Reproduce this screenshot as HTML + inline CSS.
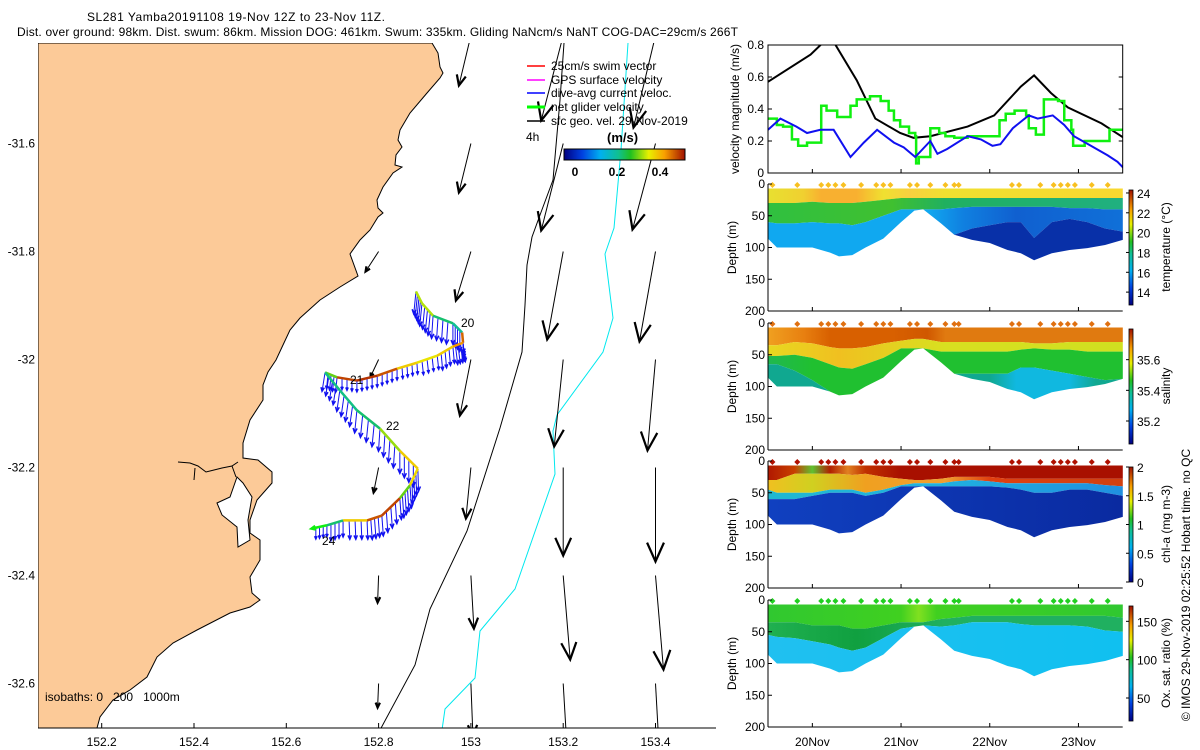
<!DOCTYPE html>
<html><head><meta charset="utf-8"><style>
html,body{margin:0;padding:0;background:#fff;}
svg{display:block;font-family:"Liberation Sans",sans-serif;}
text{font-size:12px;fill:#000;}
</style></head><body>
<svg id="fig" width="1200" height="750" viewBox="0 0 1200 750" xmlns="http://www.w3.org/2000/svg">
<defs>
<clipPath id="mapClip"><rect x="38" y="43" width="678" height="685"/></clipPath>
<clipPath id="velClip"><rect x="768" y="45" width="355" height="128"/></clipPath>
<linearGradient id="jet" x1="0" x2="1" y1="0" y2="0">
<stop offset="0" stop-color="#000080"/><stop offset="0.15" stop-color="#0040e0"/><stop offset="0.3" stop-color="#00b0f0"/><stop offset="0.45" stop-color="#10c090"/><stop offset="0.55" stop-color="#20c020"/><stop offset="0.7" stop-color="#e8f000"/><stop offset="0.83" stop-color="#f8a000"/><stop offset="1" stop-color="#a01000"/>
</linearGradient>
<linearGradient id="jetv" x1="0" x2="0" y1="1" y2="0">
<stop offset="0" stop-color="#000080"/><stop offset="0.15" stop-color="#0040e0"/><stop offset="0.3" stop-color="#00b0f0"/><stop offset="0.45" stop-color="#10c090"/><stop offset="0.55" stop-color="#20c020"/><stop offset="0.7" stop-color="#e8f000"/><stop offset="0.83" stop-color="#f8a000"/><stop offset="1" stop-color="#a01000"/>
</linearGradient>
</defs>

<text x="87" y="21" textLength="298">SL281 Yamba20191108 19-Nov 12Z to 23-Nov 11Z.</text>
<text x="17" y="36" textLength="721">Dist. over ground: 98km. Dist. swum: 86km. Mission DOG: 461km. Swum: 335km. Gliding NaNcm/s NaNT COG-DAC=29cm/s 266T</text>

<g id="map">
 <g clip-path="url(#mapClip)">
  <path fill="#fcca98" stroke="#000" stroke-width="1" d="M38,43 L432,43 L438,53 L440,67 L443,73 L440,78 L427,93 L410,113 L400,130 L398,140 L402,147 L396,155 L395,165 L402,167 L393,173 L383,187 L377,200 L378,208 L383,213 L378,217 L370,230 L360,240 L350,254 L358,276 L340,287 L320,300 L300,318 L290,330 L283,345 L276,360 L268,372 L263,385 L263,400 L250,420 L243,443 L243,458 L258,460 L272,472 L272,483 L257,500 L250,520 L250,533 L260,540 L260,560 L250,577 L252,593 L260,600 L250,607 L230,613 L197,630 L173,643 L157,657 L147,677 L130,690 L113,700 L100,717 L97,728 L38,728 Z"/>
  <path fill="#fff" stroke="#000" stroke-width="1" d="M217,503 L230,497 L237,477 L243,483 L252,497 L248,520 L250,540 L238,547 L237,527 L222,515 Z"/>
  <path fill="none" stroke="#000" stroke-width="1" d="M178,462 L190,463 L198,466 L206,472 L214,470 L222,468 L232,466 L238,462 M195,468 L194,480 M232,466 L236,477"/>
  <path fill="none" stroke="#000" stroke-width="1" d="M564,43 L560,100 L553,180 L540,215 L532,237 L527,265 L525,305 L522,352 L500,428 L467,531 L430,609 L415,665 L380,730"/>
  <path fill="none" stroke="#00e8ee" stroke-width="1" d="M628,43 L621,150 L614,228 L605,254 L613,318 L603,352 L557,415 L553,431 L555,474 L515,589 L480,631 L475,678 L445,709 L442,730"/>
  <g id="geo"></g>
  <g id="dac"></g>
  <g id="track"></g>
 </g>
 <line x1="38" y1="728" x2="716" y2="728" stroke="#000"/>
 <g id="mapTicks"></g>
 <text x="461" y="327">20</text>
 <text x="350" y="384">21</text>
 <text x="386" y="430">22</text>
 <text x="322" y="545">24</text>
 <text x="45" y="701" style="white-space:pre" xml:space="preserve">isobaths: 0   200   1000m</text>
 <g>
  <line x1="527" y1="66" x2="545" y2="66" stroke="#f00" stroke-width="1.5"/><text x="551" y="70">25cm/s swim vector</text>
  <line x1="527" y1="80" x2="545" y2="80" stroke="#f0f" stroke-width="1.5"/><text x="551" y="84">GPS surface velocity</text>
  <line x1="527" y1="93" x2="545" y2="93" stroke="#00f" stroke-width="1.5"/><text x="551" y="97">dive-avg current veloc.</text>
  <line x1="527" y1="107" x2="545" y2="107" stroke="#0f0" stroke-width="3"/><text x="551" y="111">net glider velocity</text>
  <line x1="527" y1="121" x2="545" y2="121" stroke="#000" stroke-width="1.5"/><text x="551" y="125">sfc geo. vel. 29-Nov-2019</text>
  <text x="526" y="141">4h</text>
  <text x="607" y="142" font-weight="bold" style="font-size:13px">(m/s)</text>
  <rect x="564" y="149" width="121" height="11" fill="url(#jet)" stroke="#000" stroke-width="1"/>
  <text x="575" y="176" text-anchor="middle" font-weight="bold">0</text>
  <text x="617" y="176" text-anchor="middle" font-weight="bold">0.2</text>
  <text x="660" y="176" text-anchor="middle" font-weight="bold">0.4</text>
 </g>
</g>

<g id="vel">
 <g clip-path="url(#velClip)" id="velLines"></g>
 <rect x="768" y="45" width="354.7" height="128" fill="none" stroke="#000"/>
 <g id="velTicks"></g>
 <text transform="translate(739,109) rotate(-90)" text-anchor="middle">velocity magnitude (m/s)</text>
</g>
<g id="sections"></g>
<text transform="translate(1190,585) rotate(-90)" text-anchor="middle">© IMOS 29-Nov-2019 02:25:52 Hobart time. no QC</text>
</svg>

<script>
// ---------- velocity time series ----------
const velBlackT=[19.5,19.98,20.13,20.24,20.5,20.71,20.99,21.14,21.33,21.75,22.05,22.35,22.5,22.69,22.88,23.26,23.51];
const velBlack=[0.57,0.74,0.82,0.82,0.58,0.34,0.25,0.22,0.23,0.29,0.36,0.54,0.61,0.5,0.41,0.31,0.22];
const velBlueT=[19.5,19.64,19.82,19.94,20.09,20.24,20.43,20.58,20.73,20.92,21.03,21.16,21.33,21.41,21.52,21.75,21.9,22.03,22.12,22.26,22.44,22.54,22.71,22.84,22.95,23.14,23.33,23.44,23.51];
const velBlue=[0.27,0.34,0.29,0.25,0.27,0.27,0.1,0.19,0.27,0.19,0.16,0.1,0.2,0.12,0.15,0.23,0.21,0.17,0.18,0.28,0.36,0.34,0.36,0.3,0.23,0.17,0.11,0.07,0.03];
const velGreenT=[19.5,19.6,19.67,19.77,19.84,19.94,20.1,20.16,20.28,20.43,20.5,20.65,20.77,20.86,20.92,20.99,21.09,21.16,21.17,21.2,21.33,21.43,21.5,21.6,21.75,22.11,22.18,22.28,22.41,22.44,22.52,22.61,22.77,22.84,22.92,22.94,23.07,23.35,23.51];
const velGreen=[0.34,0.3,0.29,0.21,0.17,0.19,0.42,0.39,0.35,0.42,0.46,0.48,0.45,0.39,0.33,0.29,0.25,0.23,0.06,0.1,0.28,0.25,0.23,0.22,0.23,0.33,0.37,0.39,0.36,0.28,0.24,0.46,0.45,0.33,0.27,0.17,0.2,0.27,0.27];
const velTicks=[0,0.2,0.4,0.6,0.8];
const velTickLabels=["0","0.2","0.4","0.6","0.8"];
// ---------- section data ----------
const days=[19.5,19.6,19.8,20.0,20.2,20.3,20.45,20.6,20.8,21.0,21.15,21.25,21.45,21.6,21.8,22.0,22.2,22.35,22.5,22.7,22.9,23.1,23.3,23.5];
const bottomDepth=[86,100,100,100,108,114,112,100,86,60,42,40,62,80,88,93,104,109,120,109,104,101,96,88];
const tempB1=[30,30,30,28,30,30,30,28,25,22,22,22,22,22,22,22,22,22,22,22,22,22,22,22];
const tempB2=[60,62,62,60,62,62,65,60,50,40,40,40,40,38,36,36,36,36,36,36,38,38,40,40];
const tempB3=[200,200,200,200,200,200,200,200,200,200,200,200,200,90,70,65,60,60,85,60,55,60,70,75];
const salB1=[35,35,30,32,38,40,40,38,32,28,25,25,30,30,30,30,30,30,32,32,30,30,30,30];
const salB2=[52,52,50,55,65,70,72,65,55,40,40,40,45,45,45,45,45,42,40,42,42,45,45,45];
const salB3=[65,65,75,90,200,200,200,200,200,200,200,200,200,90,80,80,80,70,70,75,80,85,90,90];
const chlB1=[30,30,20,20,20,20,22,20,25,28,30,30,28,25,25,25,28,28,28,28,28,28,28,28];
const chlB2=[45,50,50,50,45,45,45,50,45,38,35,35,35,32,30,32,35,35,35,35,35,35,38,40];
const chlB3=[60,60,60,55,50,50,50,55,50,40,40,40,40,40,40,40,42,45,50,50,45,45,50,55];
const oxB1=[35,35,35,40,40,40,45,45,40,35,35,35,30,28,25,25,25,25,25,25,25,25,25,28];
const oxB2=[55,58,60,65,70,75,80,75,60,45,42,42,42,40,35,35,35,38,40,40,40,42,48,50];
const surfTimes=[19.55,19.83,20.1,20.18,20.26,20.35,20.55,20.72,20.8,20.88,21.1,21.18,21.33,21.5,21.6,21.65,22.25,22.33,22.57,22.72,22.8,22.88,22.96,23.15,23.33];
const depthTicks=[0,50,100,150,200];
const dayTicks=[20,21,22,23];
const dayTickLabels=["20Nov","21Nov","22Nov","23Nov"];
// ---------- map data ----------
const trackLon=[152.881,152.894,152.918,152.961,152.981,152.983,152.961,152.927,152.883,152.840,152.797,152.753,152.710,152.684,152.716,152.753,152.803,152.846,152.885,152.868,152.846,152.807,152.775,152.723,152.688,152.656];
const trackLat=[-31.874,-31.896,-31.919,-31.933,-31.950,-31.969,-31.976,-31.993,-32.006,-32.017,-32.030,-32.039,-32.033,-32.024,-32.057,-32.094,-32.128,-32.169,-32.202,-32.233,-32.257,-32.289,-32.298,-32.298,-32.307,-32.313];
const trackSpeed=[0.33,0.33,0.24,0.22,0.45,0.42,0.38,0.36,0.38,0.46,0.48,0.47,0.3,0.23,0.23,0.24,0.32,0.38,0.37,0.3,0.47,0.46,0.38,0.24,0.23,0.27];
const dacU=[-0.03,-0.03,-0.02,0,0.02,0.03,0.02,0.02,0.01,0,0,0,-0.02,-0.04,-0.04,-0.03,-0.02,0,0.01,0.02,0.02,0.02,0.01,0,0,0];
const dacV=[-0.3,-0.3,-0.3,-0.28,-0.27,-0.25,-0.22,-0.18,-0.15,-0.15,-0.15,-0.15,-0.2,-0.25,-0.28,-0.3,-0.3,-0.3,-0.3,-0.3,-0.28,-0.27,-0.25,-0.22,-0.15,-0.1];
const geoLon=[152.8,152.8,152.8,152.8,152.8, 153,153,153,153,153,153,153, 153.2,153.2,153.2,153.2,153.2,153.2,153.2, 153.4,153.4,153.4,153.4,153.4,153.4,153.4];
const geoLat=[-31.8,-32,-32.2,-32.4,-32.6, -31.4,-31.6,-31.8,-32,-32.2,-32.4,-32.6, -31.4,-31.6,-31.8,-32,-32.2,-32.4,-32.6, -31.4,-31.6,-31.8,-32,-32.2,-32.4,-32.6];
const geoU=[-0.065,-0.04,-0.025,-0.005,-0.005, -0.06,-0.06,-0.075,-0.055,-0.025,0.015,0.01, -0.11,-0.11,-0.08,-0.045,0,0.035,0.025, -0.11,-0.115,-0.08,-0.04,0,0.04,0.025];
const geoV=[-0.1,-0.085,-0.125,-0.135,-0.12, -0.25,-0.245,-0.245,-0.28,-0.255,-0.265,-0.26, -0.425,-0.435,-0.44,-0.435,-0.44,-0.42,-0.425, -0.46,-0.43,-0.45,-0.455,-0.47,-0.47,-0.45];
const lonTicks=[152.2,152.4,152.6,152.8,153,153.2,153.4];
const lonTickLabels=["152.2","152.4","152.6","152.8","153","153.2","153.4"];
const latTicks=[-31.6,-31.8,-32,-32.2,-32.4,-32.6];
const latTickLabels=["-31.6","-31.8","-32","-32.2","-32.4","-32.6"];

const NS="http://www.w3.org/2000/svg";
function el(tag,attrs,parent){const e=document.createElementNS(NS,tag);for(const k in attrs)e.setAttribute(k,attrs[k]);if(parent)parent.appendChild(e);return e;}
const svg=document.getElementById('fig');
const defs=svg.querySelector('defs');

const dX=d=>768+(d-19.5)*88.7;
const vY=v=>173-v*160;
const mX=lon=>101.7+(lon-152.2)*461.5;
const mY=lat=>359.5-(lat+32)*540;

function jet(t){
  const st=[[0,[0,0,128]],[0.15,[0,64,224]],[0.3,[0,176,240]],[0.45,[16,192,144]],[0.55,[32,192,32]],[0.7,[232,240,0]],[0.83,[248,160,0]],[1,[160,16,0]]];
  t=Math.max(0,Math.min(1,t));
  for(let i=1;i<st.length;i++){if(t<=st[i][0]){const a=st[i-1],b=st[i];const f=(t-a[0])/(b[0]-a[0]);const c=a[1].map((v,j)=>Math.round(v+(b[1][j]-v)*f));return `rgb(${c})`;}}
  return 'rgb(160,16,0)';
}

// ---------- velocity panel ----------
const vl=document.getElementById('velLines');
const blackPts=velBlackT.map((t,i)=>`${dX(t)},${vY(velBlack[i])}`).join(' ');
const bl=el('polyline',{points:blackPts,fill:'none',stroke:'#000','stroke-width':2},vl);


let gp=[];velGreenT.forEach((t,i)=>{if(i>0)gp.push(`${dX(t)},${vY(velGreen[i-1])}`);gp.push(`${dX(t)},${vY(velGreen[i])}`);});
const gl=el('polyline',{points:gp.join(' '),fill:'none',stroke:'#10f010','stroke-width':2.5},vl);


const bluePts=velBlueT.map((t,i)=>`${dX(t)},${vY(velBlue[i])}`).join(' ');
const bu=el('polyline',{points:bluePts,fill:'none',stroke:'#1010f0','stroke-width':2},vl);


const vt=document.getElementById('velTicks');
velTicks.forEach((v,i)=>{
  el('line',{x1:768,x2:772,y1:vY(v),y2:vY(v),stroke:'#000'},vt);
  el('line',{x1:1118.7,x2:1122.7,y1:vY(v),y2:vY(v),stroke:'#000'},vt);
  const t=el('text',{x:764,y:vY(v)+4,'text-anchor':'end'},vt);t.textContent=velTickLabels[i];
  
  
});
dayTicks.forEach(d=>{el('line',{x1:dX(d),x2:dX(d),y1:173,y2:169,stroke:'#000'},vt);});

// ---------- sections ----------
let gid=0;
function grad(stops){
  const id='g'+(gid++);
  const g=el('linearGradient',{id:id,gradientUnits:'userSpaceOnUse',x1:768,x2:1122.7,y1:0,y2:0},defs);
  stops.forEach(s=>el('stop',{offset:(s[0]-19.5)/4,'stop-color':s[1]},g));
  return `url(#${id})`;
}
const panels=[
 {name:'temperature',top:184,bounds:[tempB1,tempB2,tempB3],
  fills:[[[19.5,'#e8e030'],[19.9,'#f0d030'],[20.1,'#f8b030'],[20.5,'#f8b030'],[20.8,'#f0e030'],[21.1,'#f8d040'],[21.5,'#f0e030'],[23.5,'#f8d830']],
         [[19.5,'#30c040'],[20.9,'#40c030'],[21.5,'#20b060'],[23.5,'#20b080']],
         [[19.5,'#10a8f0'],[21.3,'#10a8f0'],[21.7,'#1080e0'],[22.3,'#1060d0'],[23.5,'#1070d8']],
         [[19.5,'#0830a8'],[23.5,'#0830a8']]],
  dia:'#f8c020',cbLabels:[[24,'24'],[22,'22'],[20,'20'],[18,'18'],[16,'16'],[14,'14']],cbMin:12.7,cbMax:24.3,title:'temperature (°C)'},
 {name:'salinity',top:323,bounds:[salB1,salB2,salB3],
  fills:[[[19.5,'#f0a020'],[19.9,'#e88010'],[20.2,'#d86000'],[20.9,'#d86000'],[21.3,'#d05800'],[21.5,'#e07a10'],[23.5,'#e07a10']],
         [[19.5,'#e8d820'],[20.3,'#f0c020'],[21.5,'#d8e020'],[23.5,'#d0e020']],
         [[19.5,'#20b850'],[20,'#20c030'],[23.5,'#20c030']],
         [[19.5,'#10a890'],[22,'#10a890'],[22.3,'#10b8e0'],[22.9,'#10b8e0'],[23.2,'#10a890'],[23.5,'#10a890']]],
  dia:'#e07010',cbLabels:[[35.6,'35.6'],[35.4,'35.4'],[35.2,'35.2']],cbMin:35.05,cbMax:35.8,title:'salinity'},
 {name:'chl-a',top:461,bounds:[chlB1,chlB2,chlB3],
  fills:[[[19.5,'#b01800'],[19.8,'#c84000'],[20.0,'#60c030'],[20.2,'#b02000'],[20.4,'#e08020'],[20.6,'#c03000'],[21.0,'#a81000'],[23.5,'#a81000']],
         [[19.5,'#f0c020'],[20.0,'#d0d020'],[20.6,'#f0a020'],[21.5,'#f0a030'],[22,'#e04010'],[23.5,'#d04010']],
         [[19.5,'#20b8d0'],[21.5,'#20b0e0'],[23.5,'#2090e0']],
         [[19.5,'#1040c0'],[23.5,'#0a2aa0']]],
  dia:'#b01000',cbLabels:[[2,'2'],[1.5,'1.5'],[1,'1'],[0.5,'0.5'],[0,'0']],cbMin:0,cbMax:2,title:'chl-a (mg m-3)'},
 {name:'oxygen',top:600,bounds:[oxB1,oxB2],
  fills:[[[19.5,'#30c830'],[21,'#40d020'],[21.2,'#80e020'],[21.4,'#40d020'],[23.5,'#30c830']],
         [[19.5,'#20b050'],[20.5,'#10a040'],[21.5,'#20b060'],[23.5,'#20b060']],
         [[19.5,'#20c0f0'],[23.5,'#10c0f0']]],
  dia:'#20d020',cbLabels:[[150,'150'],[100,'100'],[50,'50']],cbMin:20,cbMax:170,title:'Ox. sat. ratio (%)'}
];
const secG=document.getElementById('sections');
panels.forEach(p=>{
  const g=el('g',{},secG);
  
  
  const y=d=>p.top+d*127/200;
  const layers=[null].concat(p.bounds).concat([null]);
  for(let b=0;b<layers.length-1;b++){
    const up=layers[b],lo=layers[b+1];
    const upper=days.map((t,i)=>`${dX(t)},${y(Math.min(up?up[i]:7,bottomDepth[i]))}`);
    const lower=days.map((t,i)=>`${dX(t)},${y(Math.min(lo?lo[i]:bottomDepth[i],bottomDepth[i]))}`).reverse();
    const poly=el('polygon',{points:upper.concat(lower).join(' '),fill:grad(p.fills[b])},g);
    
    
  }
  surfTimes.forEach(t=>{
    const cx=dX(t),cy=y(1.5);
    const d=el('polygon',{points:`${cx},${cy-3} ${cx+3},${cy} ${cx},${cy+3} ${cx-3},${cy}`,fill:p.dia},g);
    
    
  });
  el('line',{x1:768,x2:768,y1:p.top,y2:y(200),stroke:'#000'},g);
  el('line',{x1:768,x2:1122.7,y1:y(200),y2:y(200),stroke:'#000'},g);
  depthTicks.forEach(d=>{
    el('line',{x1:768,x2:772,y1:y(d),y2:y(d),stroke:'#000'},g);
    const t=el('text',{x:765,y:y(d)+4,'text-anchor':'end'},g);t.textContent=String(d);
    
    
  });
  dayTicks.forEach(d=>el('line',{x1:dX(d),x2:dX(d),y1:y(200),y2:y(200)-4,stroke:'#000'},g));
  const yt=el('text',{transform:`translate(736,${y(100)}) rotate(-90)`,'text-anchor':'middle'},g);yt.textContent='Depth (m)';
  
  
  const cbTop=p.top+6,cbBot=p.top+121;
  const cb=el('rect',{x:1129,y:cbTop,width:4,height:cbBot-cbTop,fill:'url(#jetv)',stroke:'#000','stroke-width':0.8},g);
  
  
  const cy=v=>cbBot-(v-p.cbMin)/(p.cbMax-p.cbMin)*(cbBot-cbTop);
  p.cbLabels.forEach(l=>{
    el('line',{x1:1126,x2:1129,y1:cy(l[0]),y2:cy(l[0]),stroke:'#000'},g);
    const t=el('text',{x:1137,y:cy(l[0])+5},g);t.textContent=l[1];
    
    
  });
  const ct=el('text',{transform:`translate(1170,${p.top+63}) rotate(-90)`,'text-anchor':'middle'},g);ct.textContent=p.title;
  
  
});
dayTicks.forEach((d,i)=>{
  const t=el('text',{x:dX(d),y:746,'text-anchor':'middle'},secG);t.textContent=dayTickLabels[i];
  
  
});

// ---------- map ----------
function arrow(parent,x,y,dx,dy,color,w,hw,name,hmin){
  const g=el('g',{},parent);
  
  
  const len=Math.hypot(dx,dy);if(len<0.5)return;
  const tx=x+dx,ty=y+dy,ang=Math.atan2(dy,dx),h=Math.max(hmin,len*0.22),a=0.42;
  el('line',{x1:x,y1:y,x2:tx,y2:ty,stroke:color,'stroke-width':w},g);
  el('polyline',{points:`${tx-h*Math.cos(ang-a)},${ty-h*Math.sin(ang-a)} ${tx},${ty} ${tx-h*Math.cos(ang+a)},${ty-h*Math.sin(ang+a)}`,fill:'none',stroke:color,'stroke-width':hw},g);
}
const geoG=document.getElementById('geo');
geoLon.forEach((lon,i)=>arrow(geoG,mX(lon),mY(geoLat[i]),geoU[i]*200,-geoV[i]*200,'#000',1,2.2,'geo-velocity-arrow',4));
const dacG=document.getElementById('dac');
for(let i=0;i<trackLon.length-1;i++){
  const x0=mX(trackLon[i]),y0=mY(trackLat[i]),x1=mX(trackLon[i+1]),y1=mY(trackLat[i+1]);
  for(let k=0;k<4;k++){const f=k/4;arrow(dacG,x0+(x1-x0)*f,y0+(y1-y0)*f,dacU[i]*75,-dacV[i]*75,'#1010f0',1,1.5,'dive-avg-current-arrow',3);}
}
const trG=document.getElementById('track');
for(let i=0;i<trackLon.length-2;i++){
  const s=el('line',{x1:mX(trackLon[i]),y1:mY(trackLat[i]),x2:mX(trackLon[i+1]),y2:mY(trackLat[i+1]),stroke:jet(trackSpeed[i]/0.5),'stroke-width':2.5},trG);
  
  
}
const n=trackLon.length-1;
arrow(trG,mX(trackLon[n-1]),mY(trackLat[n-1]),mX(trackLon[n])-mX(trackLon[n-1]),mY(trackLat[n])-mY(trackLat[n-1]),'#10f010',2.5,3,'net-glider-velocity-arrow',4);
const mt=document.getElementById('mapTicks');
lonTicks.forEach((l,i)=>{
  el('line',{x1:mX(l),x2:mX(l),y1:728,y2:723,stroke:'#000'},mt);
  const t=el('text',{x:mX(l),y:746,'text-anchor':'middle'},mt);t.textContent=lonTickLabels[i];
  
  
});
latTicks.forEach((l,i)=>{
  const t=el('text',{x:35,y:mY(l)+4,'text-anchor':'end'},mt);t.textContent=latTickLabels[i];
  
  
});
</script>
</body></html>
